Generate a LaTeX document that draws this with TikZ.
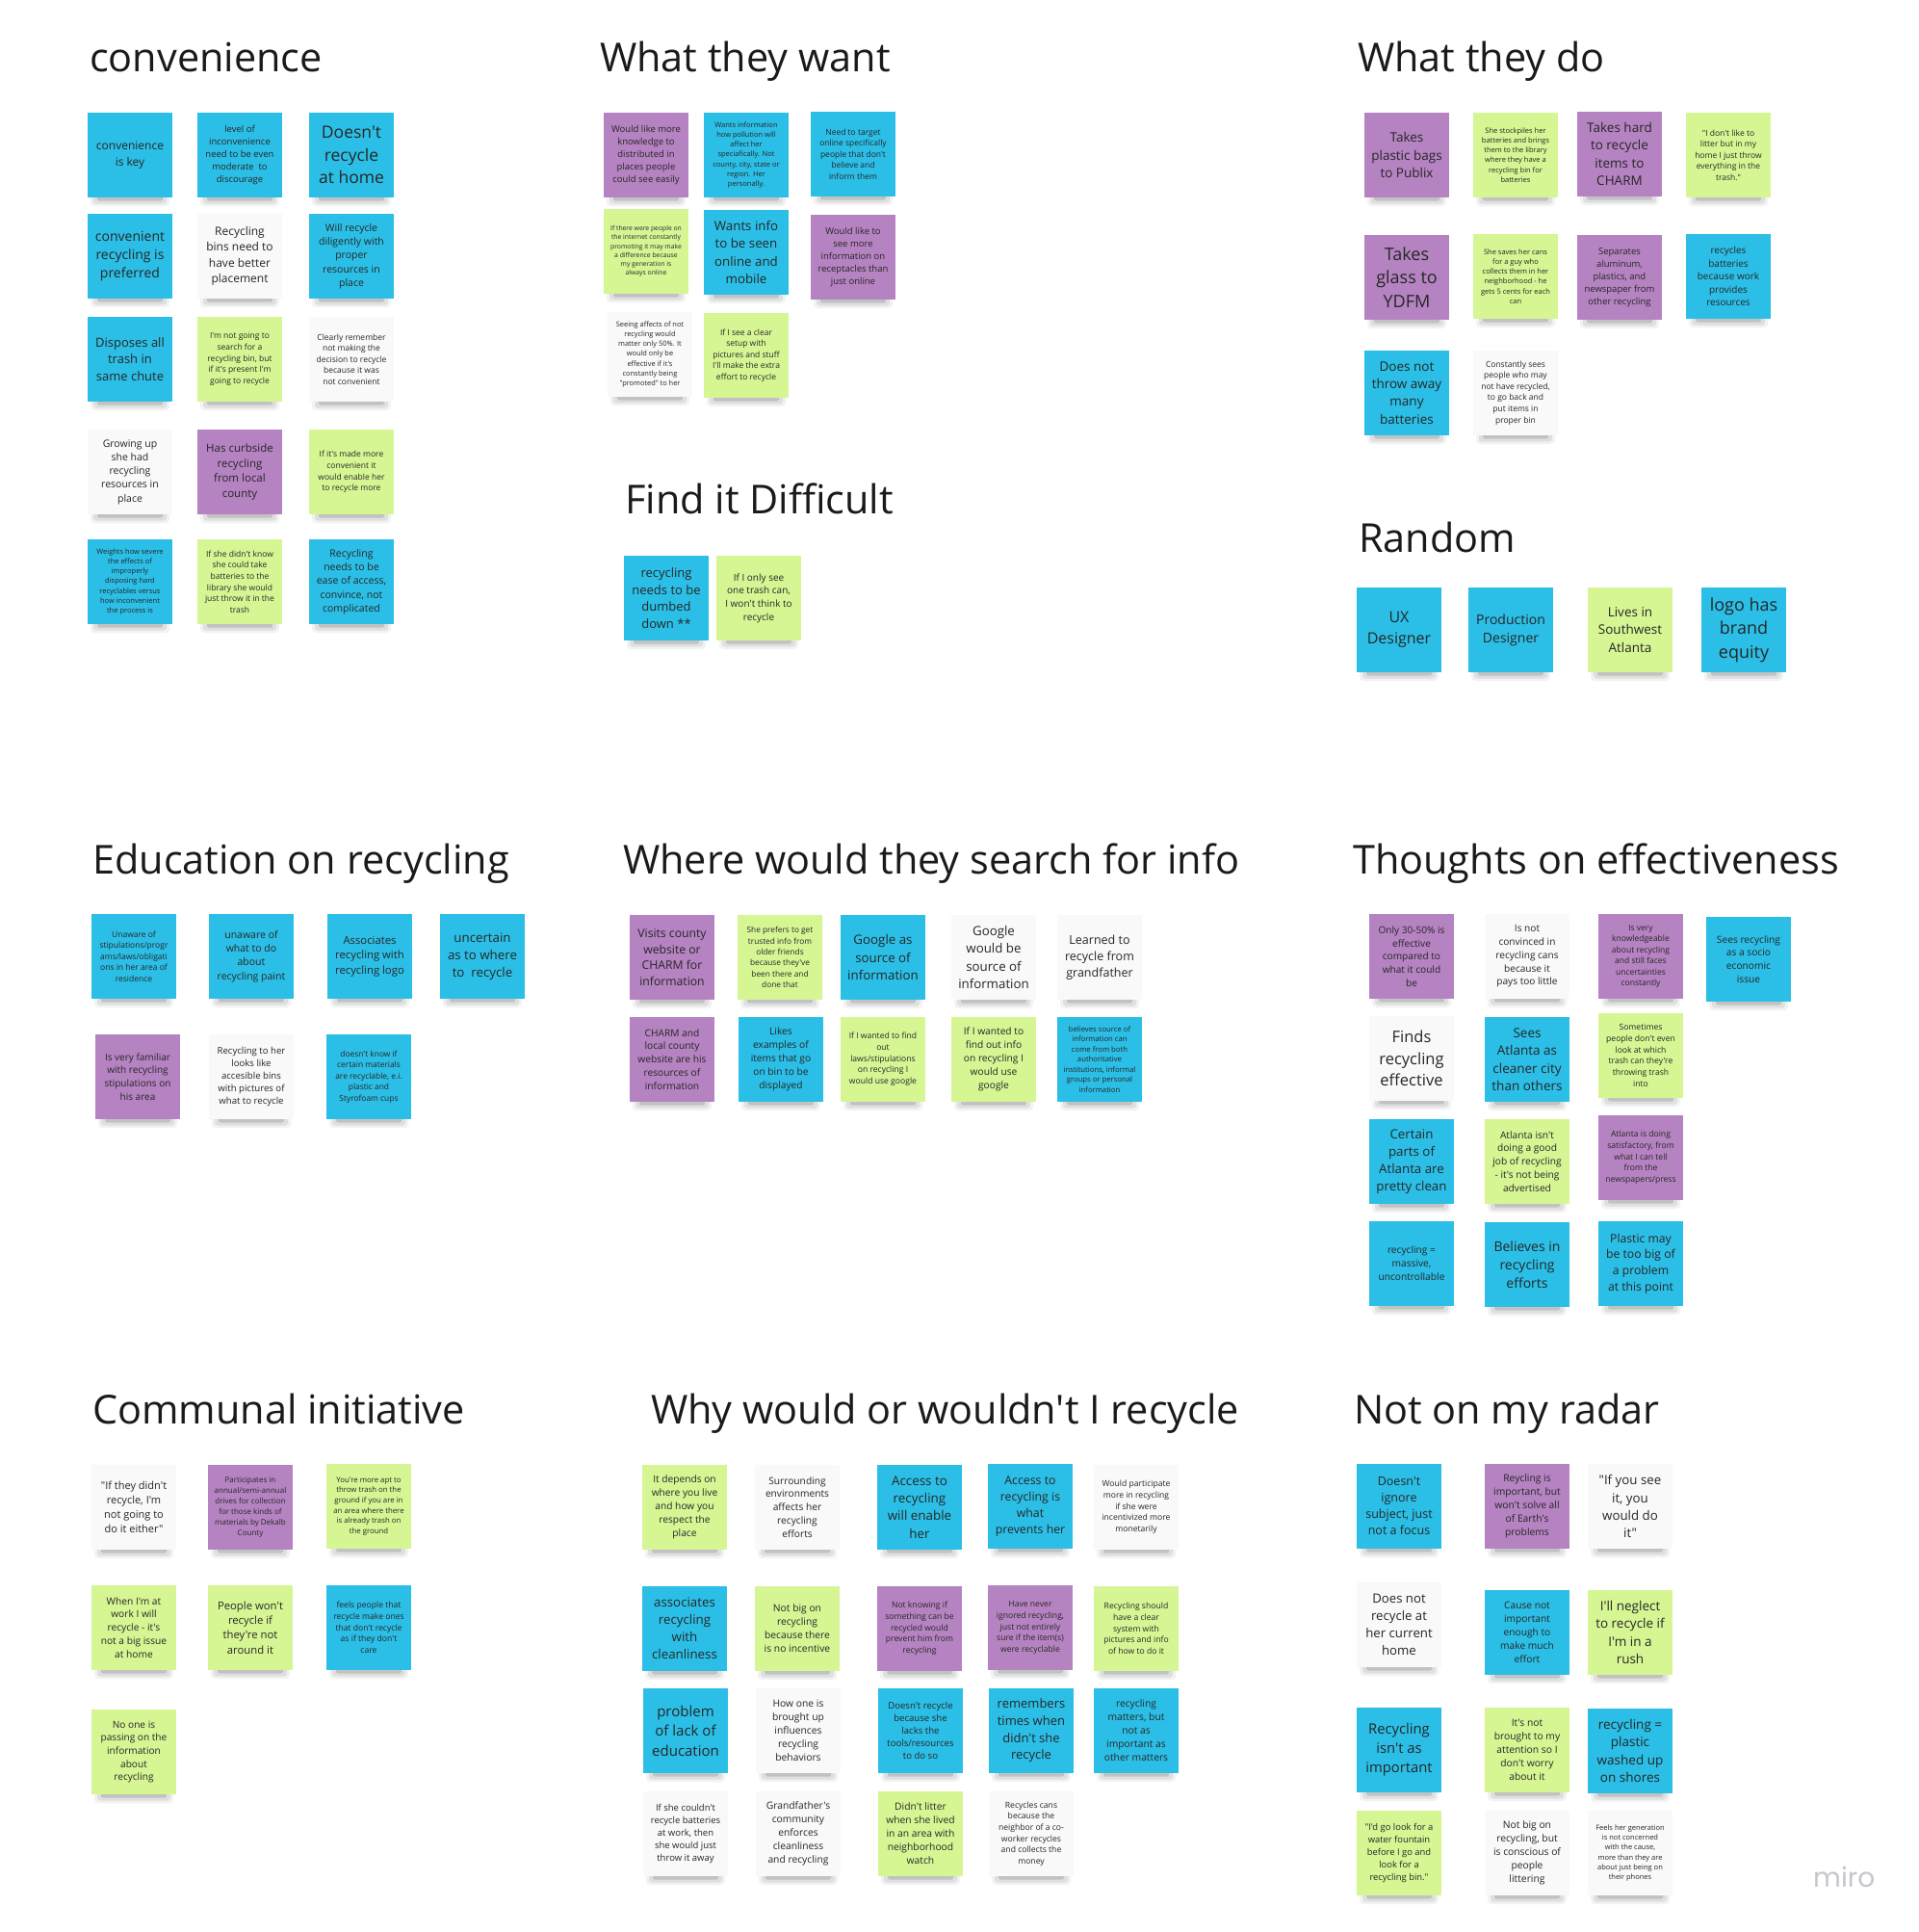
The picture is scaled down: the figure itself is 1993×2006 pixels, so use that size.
\documentclass[tikz,border=0pt]{standalone}
\usepackage{fontspec}
\setmainfont{Open Sans}
\newfontfamily\osans{Open Sans}
\newfontfamily\mirofont{Poppins}
\usetikzlibrary{calc}
\definecolor{nblue}{HTML}{2BBFE7}
\definecolor{npurple}{HTML}{B583C1}
\definecolor{ngreen}{HTML}{D6F694}
\definecolor{nwhite}{HTML}{F9F9F9}
\definecolor{ntext}{HTML}{262626}
\definecolor{ttext}{HTML}{1A1A1A}
\definecolor{mirogray}{HTML}{C6C6CC}
\tikzset{
  stickynote/.style={shape=rectangle, minimum width=88pt, minimum height=88pt, inner sep=0pt, align=center, text=ntext},
  grouptitle/.style={anchor=base west, inner sep=0pt, text=ttext, font=\osans\fontsize{41.4}{50}\selectfont},
  shadowA/.style={fill=black, opacity=0.05, rounded corners=4pt},
  shadowB/.style={fill=black, opacity=0.08, rounded corners=3pt},
  shadowC/.style={fill=black, opacity=0.13, rounded corners=2pt},
}
% #1 name, #2 left x, #3 top y, #4 colour, #5 font size, #6 text
\newcommand{\sticknote}[6]{%
  \pgfmathsetmacro{\stkls}{#5*1.36}%
  \fill[shadowA] (#2+3,#3+80) rectangle (#2+85,#3+97);
  \fill[shadowB] (#2+6,#3+82) rectangle (#2+82,#3+94.5);
  \fill[shadowC] (#2+10,#3+84) rectangle (#2+78,#3+91.5);
  \node[stickynote, fill=#4, font=\osans\fontsize{#5}{\stkls}\selectfont] (#1) at (#2+44,#3+44) {#6};
}
\begin{document}
\begin{tikzpicture}[x=1pt, y=-1pt]
\fill[white] (0,0) rectangle (1993,2006);
\useasboundingbox (0,0) rectangle (1993,2006);

% ---------- titles ----------
\node[grouptitle] (ttlconv) at (93,74) {convenience};
\node[grouptitle] (ttlwant) at (623,74) {What they want};
\node[grouptitle] (ttldo) at (1410,74) {What they do};
\node[grouptitle] (ttlfind) at (649,533) {Find it Difficult};
\node[grouptitle] (ttlrand) at (1411,573) {Random};
\node[grouptitle] (ttledu) at (96,907) {Education on recycling};
\node[grouptitle] (ttlwhere) at (647,907) {Where would they search for info};
\node[grouptitle] (ttlthought) at (1405,907) {Thoughts on effectiveness};
\node[grouptitle] (ttlcomm) at (96,1478) {Communal initiative};
\node[grouptitle] (ttlwhy) at (676,1478) {Why would or wouldn't I recycle};
\node[grouptitle] (ttlradar) at (1406,1478) {Not on my radar};

% ---------- convenience ----------
\sticknote{c1}{91}{117}{nblue}{12}{convenience\\is key}
\sticknote{c2}{205}{117}{nblue}{9.5}{level of\\inconvenience\\need to be even\\moderate\ \ to\\discourage}
\sticknote{c3}{321}{117}{nblue}{17.5}{Doesn't\\recycle\\at home}
\sticknote{c4}{91}{222}{nblue}{14}{convenient\\recycling is\\preferred}
\sticknote{c5}{205}{222}{nwhite}{12}{Recycling\\bins need to\\have better\\placement}
\sticknote{c6}{321}{222}{nblue}{10.5}{Will recycle\\diligently with\\proper\\resources in\\place}
\sticknote{c7}{91}{329}{nblue}{13}{Disposes all\\trash in\\same chute}
\sticknote{c8}{205}{329}{ngreen}{8.5}{I'm not going to\\search for a\\recycling bin, but\\if it's present I'm\\going to recycle}
\sticknote{c9}{321}{329}{nwhite}{8.5}{Clearly remember\\not making the\\decision to recycle\\because it was\\not convenient}
\sticknote{c10}{91}{446}{nwhite}{10.5}{Growing up\\she had\\recycling\\resources in\\place}
\sticknote{c11}{205}{446}{npurple}{11.5}{Has curbside\\recycling\\from local\\county}
\sticknote{c12}{321}{446}{ngreen}{8.5}{If it's made more\\convenient it\\would enable her\\to recycle more}
\sticknote{c13}{91}{560}{nblue}{7.5}{Weights how severe\\the effects of\\improperly\\disposing hard\\recyclables versus\\how inconvenient\\the process is}
\sticknote{c14}{205}{560}{ngreen}{8.5}{If she didn't know\\she could take\\batteries to the\\library she would\\just throw it in the\\trash}
\sticknote{c15}{321}{560}{nblue}{10.5}{Recycling\\needs to be\\ease of access,\\convince, not\\complicated}

% ---------- what they want ----------
\sticknote{w1}{627}{117}{npurple}{9.5}{Would like more\\knowledge to\\distributed in\\places people\\could see easily}
\sticknote{w2}{731}{117}{nblue}{7.5}{Wants information\\how pollution will\\affect her\\speciafically. Not\\county, city, state or\\region. Her\\personally.}
\sticknote{w3}{842}{116}{nblue}{8.5}{Need to target\\online specifically\\people that don't\\believe and\\inform them}
\sticknote{w4}{627}{217}{ngreen}{6.8}{If there were people on\\the internet constantly\\promoting it may make\\a difference because\\my generation is\\always online}
\sticknote{w5}{731}{218}{nblue}{13.3}{Wants info\\to be seen\\online and\\mobile}
\sticknote{w6}{842}{223}{npurple}{9.5}{Would like to\\see more\\information on\\receptacles than\\just online}
\sticknote{w7}{631}{324}{nwhite}{7.4}{Seeing affects of not\\recycling would\\matter only 50\%. It\\would only be\\effective if it's\\constantly being\\"promoted" to her}
\sticknote{w8}{731}{325}{ngreen}{8.5}{If I see a clear\\setup with\\pictures and stuff\\I'll make the extra\\effort to recycle}

% ---------- find it difficult ----------
\sticknote{f1}{648}{577}{nblue}{13}{recycling\\needs to be\\dumbed\\down **}
\sticknote{f2}{744}{577}{ngreen}{10}{If I only see\\one trash can,\\I won't think to\\recycle}

% ---------- what they do ----------
\sticknote{d1}{1417}{117}{npurple}{13.5}{Takes\\plastic bags\\to Publix}
\sticknote{d2}{1530}{117}{ngreen}{7.5}{She stockpiles her\\batteries and brings\\them to the library\\where they have a\\recycling bin for\\batteries}
\sticknote{d3}{1638}{116}{npurple}{13.5}{Takes hard\\to recycle\\items to\\CHARM}
\sticknote{d4}{1751}{117}{ngreen}{8.5}{"I don't like to\\litter but in my\\home I just throw\\everything in the\\trash."}
\sticknote{d5}{1417}{244}{npurple}{18}{Takes\\glass to\\YDFM}
\sticknote{d6}{1530}{243}{ngreen}{7.5}{She saves her cans\\for a guy who\\collects them in her\\neighborhood - he\\gets 5 cents for each\\can}
\sticknote{d7}{1638}{244}{npurple}{9.5}{Separates\\aluminum,\\plastics, and\\newspaper from\\other recycling}
\sticknote{d8}{1751}{243}{nblue}{10}{recycles\\batteries\\because work\\provides\\resources}
\sticknote{d9}{1417}{364}{nblue}{13.5}{Does not\\throw away\\many\\batteries}
\sticknote{d10}{1530}{364}{nwhite}{8.5}{Constantly sees\\people who may\\not have recycled,\\to go back and\\put items in\\proper bin}

% ---------- random ----------
\sticknote{r1}{1409}{610}{nblue}{16}{UX\\Designer}
\sticknote{r2}{1525}{610}{nblue}{14}{Production\\Designer}
\sticknote{r3}{1649}{610}{ngreen}{13.5}{Lives in\\Southwest\\Atlanta}
\sticknote{r4}{1767}{610}{nblue}{18}{logo has\\brand\\equity}

% ---------- education ----------
\sticknote{e1}{95}{949}{nblue}{8.5}{Unaware of\\stipulations/progr\\ams/laws/obligati\\ons in her area of\\residence}
\sticknote{e2}{217}{949}{nblue}{10.5}{unaware of\\what to do\\about\\recycling paint}
\sticknote{e3}{340}{949}{nblue}{11.3}{Associates\\recycling with\\recycling logo}
\sticknote{e4}{457}{949}{nblue}{13.3}{uncertain\\as to where\\to\ \ recycle}
\sticknote{e5}{99}{1074}{npurple}{10}{Is very familiar\\with recycling\\stipulations on\\his area}
\sticknote{e6}{217}{1074}{nwhite}{9.6}{Recycling to her\\looks like\\accesible bins\\with pictures of\\what to recycle}
\sticknote{e7}{339}{1074}{nblue}{8.4}{doesn't know if\\certain materials\\are recyclable, e.i.\\plastic and\\Styrofoam cups}

% ---------- where would they search ----------
\sticknote{s1}{654}{950}{npurple}{12.2}{Visits county\\website or\\CHARM for\\information}
\sticknote{s2}{766}{950}{ngreen}{8.3}{She prefers to get\\trusted info from\\older friends\\because they've\\been there and\\done that}
\sticknote{s3}{873}{950}{nblue}{13.3}{Google as\\source of\\information}
\sticknote{s4}{988}{950}{nwhite}{13.3}{Google\\would be\\source of\\information}
\sticknote{s5}{1098}{950}{nwhite}{12.5}{Learned to\\recycle from\\grandfather}
\sticknote{s6}{654}{1056}{npurple}{10.2}{CHARM and\\local county\\website are his\\resources of\\information}
\sticknote{s7}{767}{1056}{nblue}{10.2}{Likes\\examples of\\items that go\\on bin to be\\displayed}
\sticknote{s8}{873}{1056}{ngreen}{8.6}{If I wanted to find\\out\\laws/stipulations\\on recycling I\\would use google}
\sticknote{s9}{988}{1056}{ngreen}{10.2}{If I wanted to\\find out info\\on recycling I\\would use\\google}
\sticknote{s10}{1098}{1056}{nblue}{7.7}{believes source of\\information can\\come from both\\authoritative\\institutions, informal\\groups or personal\\information}

% ---------- thoughts on effectiveness ----------
\sticknote{t1}{1422}{949}{npurple}{10.1}{Only 30-50\% is\\effective\\compared to\\what it could\\be}
\sticknote{t2}{1542}{949}{nwhite}{10.1}{Is not\\convinced in\\recycling cans\\because it\\pays too little}
\sticknote{t3}{1660}{949}{npurple}{8.5}{Is very\\knowledgeable\\about recycling\\and still faces\\uncertainties\\constantly}
\sticknote{t4}{1772}{952}{nblue}{10.2}{Sees recycling\\as a socio\\economic\\issue}
\sticknote{t5}{1422}{1055}{nwhite}{16.5}{Finds\\recycling\\effective}
\sticknote{t6}{1542}{1056}{nblue}{13.5}{Sees\\Atlanta as\\cleaner city\\than others}
\sticknote{t7}{1660}{1052}{ngreen}{8.6}{Sometimes\\people don't even\\look at which\\trash can they're\\throwing trash\\into}
\sticknote{t8}{1422}{1162}{nblue}{13.3}{Certain\\parts of\\Atlanta are\\pretty clean}
\sticknote{t9}{1542}{1162}{ngreen}{10.2}{Atlanta isn't\\doing a good\\job of recycling\\- it's not being\\advertised}
\sticknote{t10}{1660}{1158}{npurple}{8.6}{Atlanta is doing\\satisfactory, from\\what I can tell\\from the\\newspapers/press}
\sticknote{t11}{1422}{1268}{nblue}{10.2}{recycling =\\massive,\\uncontrollable}
\sticknote{t12}{1542}{1269}{nblue}{14}{Believes in\\recycling\\efforts}
\sticknote{t13}{1660}{1268}{nblue}{12.2}{Plastic may\\be too big of\\a problem\\at this point}

% ---------- communal initiative ----------
\sticknote{m1}{95}{1521}{nwhite}{11}{"If they didn't\\recycle, I'm\\not going to\\do it either"}
\sticknote{m2}{216}{1521}{npurple}{8}{Participates in\\annual/semi-annual\\drives for collection\\for those kinds of\\materials by Dekalb\\County}
\sticknote{m3}{339}{1520}{ngreen}{7.8}{You're more apt to\\throw trash on the\\ground if you are in\\an area where there\\is already trash on\\the ground}
\sticknote{m4}{95}{1646}{ngreen}{10.2}{When I'm at\\work I will\\recycle - it's\\not a big issue\\at home}
\sticknote{m5}{216}{1646}{ngreen}{11.3}{People won't\\recycle if\\they're not\\around it}
\sticknote{m6}{339}{1646}{nblue}{8.6}{feels people that\\recycle make ones\\that don't recycle\\as if they don't\\care}
\sticknote{m7}{95}{1775}{ngreen}{10.1}{No one is\\passing on the\\information\\about\\recycling}

% ---------- why would or wouldn't I recycle ----------
\sticknote{y1}{667}{1521}{ngreen}{10.2}{It depends on\\where you live\\and how you\\respect the\\place}
\sticknote{y2}{784}{1521}{nwhite}{10.2}{Surrounding\\environments\\affects her\\recycling\\efforts}
\sticknote{y3}{911}{1521}{nblue}{13.4}{Access to\\recycling\\will enable\\her}
\sticknote{y4}{1026}{1520}{nblue}{12.3}{Access to\\recycling is\\what\\prevents her}
\sticknote{y5}{1136}{1521}{nwhite}{8.6}{Would participate\\more in recycling\\if she were\\incentivized more\\monetarily}
\sticknote{y6}{667}{1647}{nblue}{13.3}{associates\\recycling\\with\\cleanliness}
\sticknote{y7}{784}{1647}{ngreen}{10.3}{Not big on\\recycling\\because there\\is no incentive}
\sticknote{y8}{911}{1647}{npurple}{8.6}{Not knowing if\\something can be\\recycled would\\prevent him from\\recycling}
\sticknote{y9}{1026}{1646}{npurple}{8.6}{Have never\\ignored recycling,\\just not entirely\\sure if the item(s)\\were recyclable}
\sticknote{y10}{1136}{1647}{ngreen}{8.6}{Recycling should\\have a clear\\system with\\pictures and info\\of how to do it}
\sticknote{y11}{668}{1753}{nblue}{15}{problem\\of lack of\\education}
\sticknote{y12}{785}{1753}{nwhite}{10.3}{How one is\\brought up\\influences\\recycling\\behaviors}
\sticknote{y13}{912}{1753}{nblue}{9.6}{Doesn't recycle\\because she\\lacks the\\tools/resources\\to do so}
\sticknote{y14}{1027}{1753}{nblue}{13}{remembers\\times when\\didn't she\\recycle}
\sticknote{y15}{1136}{1753}{nblue}{10.3}{recycling\\matters, but\\not as\\important as\\other matters}
\sticknote{y16}{668}{1860}{nwhite}{9.5}{If she couldn't\\recycle batteries\\at work, then\\she would just\\throw it away}
\sticknote{y17}{785}{1860}{nwhite}{10.3}{Grandfather's\\community\\enforces\\cleanliness\\and recycling}
\sticknote{y18}{912}{1860}{ngreen}{10.3}{Didn't litter\\when she lived\\in an area with\\neighborhood\\watch}
\sticknote{y19}{1027}{1860}{nwhite}{8.6}{Recycles cans\\because the\\neighbor of a co-\\worker recycles\\and collects the\\money}

% ---------- not on my radar ----------
\sticknote{n1}{1409}{1520}{nblue}{12.5}{Doesn't\\ignore\\subject, just\\not a focus}
\sticknote{n2}{1542}{1520}{npurple}{10.3}{Reycling is\\important, but\\won't solve all\\of Earth's\\problems}
\sticknote{n3}{1649}{1520}{nwhite}{13.3}{"If you see\\it, you\\would do\\it"}
\sticknote{n4}{1409}{1643}{nwhite}{13.2}{Does not\\recycle at\\her current\\home}
\sticknote{n5}{1542}{1651}{nblue}{10.2}{Cause not\\important\\enough to\\make much\\effort}
\sticknote{n6}{1649}{1651}{ngreen}{13.5}{I'll neglect\\to recycle if\\I'm in a\\rush}
\sticknote{n7}{1409}{1773}{nblue}{14.8}{Recycling\\isn't as\\important}
\sticknote{n8}{1542}{1773}{ngreen}{10.3}{It's not\\brought to my\\attention so I\\don't worry\\about it}
\sticknote{n9}{1649}{1774}{nblue}{13.5}{recycling =\\plastic\\washed up\\on shores}
\sticknote{n10}{1409}{1880}{ngreen}{9.4}{"I'd go look for a\\water fountain\\before I go and\\look for a\\recycling bin."}
\sticknote{n11}{1542}{1880}{nwhite}{10.3}{Not big on\\recycling, but\\is conscious of\\people\\littering}
\sticknote{n12}{1649}{1880}{nwhite}{7.5}{Feels her generation\\is not concerned\\with the cause,\\more than they are\\about just being on\\their phones}

% ---------- logo ----------
\node[anchor=base west, inner sep=0pt, text=mirogray, font=\mirofont\fontsize{28}{30}\selectfont] (logo) at (1883,1959) {miro};
\end{tikzpicture}
\end{document}
